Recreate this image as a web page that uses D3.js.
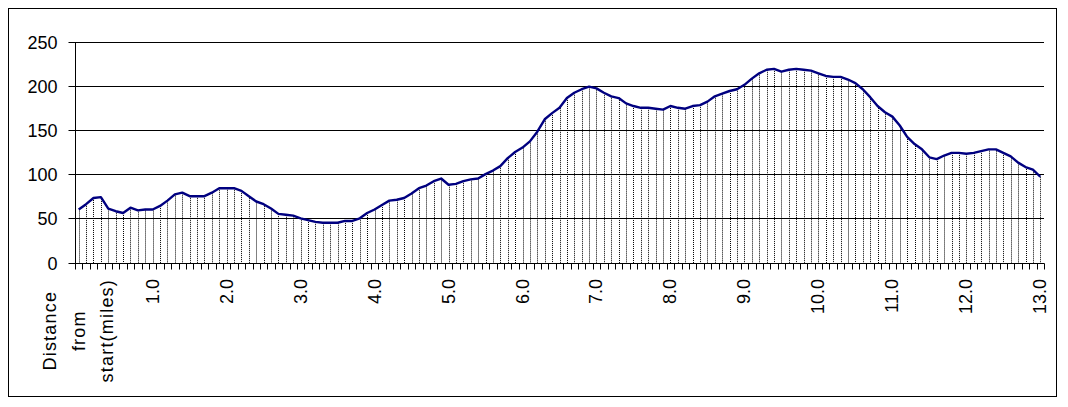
<!DOCTYPE html>
<html>
<head>
<meta charset="utf-8">
<script src="https://cdn.jsdelivr.net/npm/d3@7"></script>
<style>
  html, body { margin: 0; padding: 0; background: #fff; }
  svg { display: block; }
  text { font-family: Arial, "Liberation Sans", sans-serif; fill: #000; }
</style>
</head>
<body>
<svg id="chart" width="1068" height="407"></svg>
<script>
// ---- data ----
const firstCategoryLabel = ["Distance", "from", "start(miles)"];
const distances = d3.range(131).map(i => (i / 10).toFixed(1));
const labeledTicks = ["1.0","2.0","3.0","4.0","5.0","6.0","7.0","8.0","9.0","10.0","11.0","12.0","13.0"];
const elevation = [
  60, 66, 73, 74, 61, 58, 56, 62, 59, 60, 60, 64, 70, 77, 79, 75, 75, 75, 79, 84,
  84, 84, 81, 75, 69, 66, 61, 55, 54, 53, 50, 48, 46, 45, 45, 45, 47, 47, 50, 56,
  60, 65, 70, 71, 73, 78, 84, 87, 92, 95, 88, 89, 92, 94, 95, 100, 104, 109, 118, 125,
  130, 137, 148, 162, 169, 175, 186, 192, 196, 199, 197, 192, 188, 186, 180, 177, 175, 175, 174, 173,
  177, 175, 174, 177, 178, 182, 188, 191, 194, 196, 201, 208, 214, 218, 219, 216, 218, 219, 218, 217,
  214, 211, 210, 210, 207, 203, 196, 187, 177, 170, 165, 155, 142, 134, 128, 119, 117, 121, 124, 124,
  123, 124, 126, 128, 128, 124, 120, 113, 108, 105, 97
];
const yTicks = [0, 50, 100, 150, 200, 250];

// ---- layout ----
const svg = d3.select("#chart");
const plotLeft = 75, plotRight = 1044, plotTop = 41.5, plotBottom = 262.5;
const fontSize = 18;

svg.append("rect")
  .attr("x", 8.5).attr("y", 8.5).attr("width", 1048).attr("height", 388)
  .attr("fill", "#fff").attr("stroke", "#000").attr("stroke-width", 1);

const x = d3.scaleBand().domain(distances).range([plotLeft, plotRight]).paddingInner(0).paddingOuter(0);
const y = d3.scaleLinear().domain([0, 250]).range([plotBottom, plotTop]);
const cx = d => x(d) + x.bandwidth() / 2;
const crisp = v => Math.round(v) + 0.5;

// gridlines
svg.append("g").selectAll("line").data(yTicks.filter(t => t > 0)).join("line")
  .attr("x1", plotLeft).attr("x2", plotRight)
  .attr("y1", d => crisp(y(d))).attr("y2", d => crisp(y(d)))
  .attr("stroke", "#000").attr("stroke-width", 1);

// drop lines (dotted)
svg.append("g").selectAll("line").data(distances).join("line")
  .attr("x1", d => crisp(cx(d))).attr("x2", d => crisp(cx(d)))
  .attr("y1", (d, i) => y(elevation[i])).attr("y2", crisp(y(0)))
  .attr("stroke", "#000").attr("stroke-width", 1).attr("stroke-dasharray", "1,1");

// elevation line
const line = d3.line().x((v, i) => cx(distances[i])).y(v => y(v));
svg.append("path").datum(elevation)
  .attr("d", line).attr("fill", "none")
  .attr("stroke", "#000080").attr("stroke-width", 2.4).attr("stroke-linejoin", "round");

// y axis
const yAxis = d3.axisLeft(y).tickValues(yTicks).tickSize(7).tickPadding(11);
const gy = svg.append("g").attr("transform", `translate(${plotLeft + 0.5},0)`).call(yAxis);
gy.select(".domain").attr("d", `M0,${crisp(y(250))}V${crisp(y(0))}`).attr("stroke", "#000");
gy.selectAll(".tick line").attr("stroke", "#000");
gy.selectAll(".tick").attr("transform", d => `translate(0,${crisp(y(d))})`);
gy.selectAll(".tick text").attr("font-size", fontSize).attr("font-family", "Arial, 'Liberation Sans', sans-serif").attr("dy", "0.35em");

// x axis: ticks at category boundaries
const boundaries = distances.map(d => x(d)).concat([plotRight]);
const gx = svg.append("g");
gx.append("line").attr("x1", plotLeft).attr("x2", plotRight + 0.5)
  .attr("y1", crisp(y(0))).attr("y2", crisp(y(0))).attr("stroke", "#000");
gx.selectAll("line.tk").data(boundaries).join("line").attr("class", "tk")
  .attr("x1", b => crisp(b)).attr("x2", b => crisp(b))
  .attr("y1", crisp(y(0))).attr("y2", crisp(y(0)) + 6).attr("stroke", "#000");

// x tick labels (rotated)
const labelTop = 279;
labeledTicks.forEach(lbl => {
  const px = cx(lbl);
  svg.append("text")
    .attr("transform", `translate(${px},${labelTop}) rotate(-90)`)
    .attr("text-anchor", "end").attr("dominant-baseline", "central")
    .attr("font-size", fontSize).text(lbl);
});

// first category label, multi-line
const c0 = cx(distances[0]);
const tmp = svg.append("text").attr("font-size", fontSize).attr("letter-spacing", 1.2).text(firstCategoryLabel[2]);
const maxLen = tmp.node().getComputedTextLength();
tmp.remove();
firstCategoryLabel.forEach((ln, j) => {
  svg.append("text")
    .attr("transform", `translate(${c0 + (j - 1) * 28.5},${labelTop + maxLen / 2}) rotate(-90)`)
    .attr("text-anchor", "middle").attr("dominant-baseline", "central")
    .attr("font-size", fontSize).attr("letter-spacing", 1.2).text(ln);
});
</script>
</body>
</html>
